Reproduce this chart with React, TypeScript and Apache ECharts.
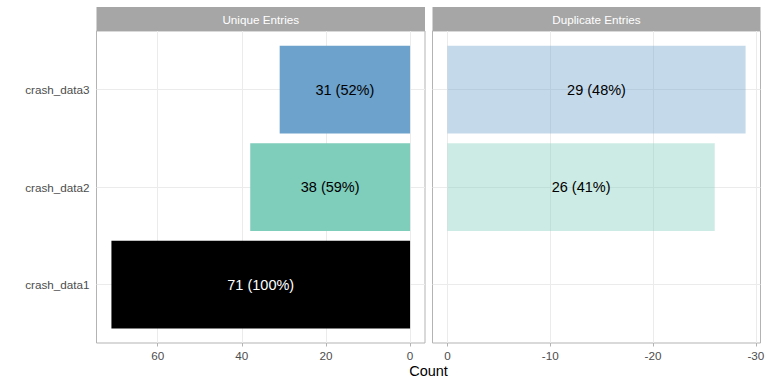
import React, { useEffect, useRef } from "react";
import * as echarts from "echarts";

// ---- data ----
const categories = ["crash_data1", "crash_data2", "crash_data3"];
const uniqueCounts = [71, 38, 31];
const uniquePct = [100, 59, 52];
const duplicateCounts = [0, 26, 29];
const duplicatePct = [0, 41, 48];
const uniqueTicks = [0, 20, 40, 60];
const duplicateTicks = [-30, -20, -10, 0];
const panelTitles = ["Unique Entries", "Duplicate Entries"];
const categoryColors = ["#000000", "#7fcdbb", "#6ca2cc"];
const labelColors = ["#ffffff", "#000000", "#000000"];
const xTitle = "Count";

// ---- layout / style ----
const FONT = "Liberation Sans, Arial, Helvetica, sans-serif";
const PANEL_TOP = 31;
const PANEL_BOTTOM = 343;
const STRIP_TOP = 7;
const PANELS = [
  { left: 96.5, right: 425 },
  { left: 432.5, right: 760.5 },
];
const BORDER = "#b3b3b3";
const GRIDLINE = "#ebebeb";
const AXIS_TEXT = "#4d4d4d";
const STRIP_FILL = "#a6a6a6";
const DUP_ALPHA = 0.4;

function withAlpha(hex: string, a: number) {
  const n = parseInt(hex.slice(1), 16);
  return `rgba(${(n >> 16) & 255},${(n >> 8) & 255},${n & 255},${a})`;
}

export default function App() {
  const ref = useRef<HTMLDivElement>(null);

  useEffect(() => {
    if (!ref.current) return;
    const chart = echarts.init(ref.current, undefined, { renderer: "svg" });

    const panelH = PANEL_BOTTOM - PANEL_TOP;
    const nCat = categories.length;
    const band = panelH / (nCat - 1 + 1.2);
    const barTop = PANEL_TOP + 0.1 * band;
    const barH = band * nCat;
    const hTop = PANEL_TOP + 0.6 * band;
    const hH = band * (nCat - 1);

    const uMax = Math.max(...uniqueCounts);
    const dMin = -Math.max(...duplicateCounts);
    const ranges = [
      { min: -0.05 * uMax, max: uMax * 1.05 },
      { min: dMin * 1.05, max: -0.05 * dMin },
    ];
    const tickSets = [uniqueTicks, duplicateTicks];

    const grids: any[] = [];
    const xAxes: any[] = [];
    const yAxes: any[] = [];
    const series: any[] = [];
    const graphics: any[] = [];

    PANELS.forEach((p, pi) => {
      const width = p.right - p.left;
      const r = ranges[pi];
      const toPx = (v: number) => p.right - ((v - r.min) / (r.max - r.min)) * width;
      const ticks = tickSets[pi];
      const tMin = Math.min(...ticks);
      const tMax = Math.max(...ticks);
      const tLeft = toPx(tMax);
      const tRight = toPx(tMin);
      const base = pi * 4;

      // frame grid
      grids.push({
        left: p.left, width, top: PANEL_TOP, height: panelH,
        show: true, borderColor: BORDER, borderWidth: 1, backgroundColor: "transparent",
        outerBoundsMode: "none",
      });
      xAxes.push({ gridIndex: base, type: "value", show: false, min: 0, max: 1 });
      yAxes.push({ gridIndex: base, type: "value", show: false, min: 0, max: 1 });

      // horizontal gridlines grid
      grids.push({ left: p.left, width, top: hTop, height: hH, outerBoundsMode: "none" });
      xAxes.push({ gridIndex: base + 1, type: "value", show: false, min: 0, max: 1 });
      yAxes.push({
        gridIndex: base + 1, type: "value", min: 1, max: nCat, interval: 1,
        axisLine: { show: false }, axisTick: { show: false }, axisLabel: { show: false },
        splitLine: { show: true, lineStyle: { color: GRIDLINE, width: 1 } },
      });

      // tick grid
      grids.push({ left: tLeft, width: tRight - tLeft, top: PANEL_TOP, height: panelH, outerBoundsMode: "none" });
      xAxes.push({
        gridIndex: base + 2, type: "value", min: tMin, max: tMax,
        interval: Math.abs(ticks[1] - ticks[0]), inverse: true, position: "bottom",
        axisLine: { show: false },
        axisTick: { show: true, length: 3.5, lineStyle: { color: BORDER, width: 1 } },
        axisLabel: { color: AXIS_TEXT, fontSize: 11.7, fontFamily: FONT, margin: 6 },
        splitLine: { show: true, lineStyle: { color: GRIDLINE, width: 1 } },
      });
      yAxes.push({ gridIndex: base + 2, type: "value", show: false, min: 0, max: 1 });

      // bar grid
      grids.push({ left: p.left, width, top: barTop, height: barH, outerBoundsMode: "none" });
      xAxes.push({
        gridIndex: base + 3, type: "value", show: false, min: r.min, max: r.max, inverse: true,
      });
      yAxes.push({
        gridIndex: base + 3, type: "category", data: categories,
        axisLine: { show: false },
        axisTick: { show: pi === 0, alignWithLabel: true, length: 3.5, lineStyle: { color: BORDER, width: 1 } },
        axisLabel: { show: pi === 0, color: AXIS_TEXT, fontSize: 11.7, fontFamily: FONT, margin: 7 },
        splitLine: { show: false },
      });

      const counts = pi === 0 ? uniqueCounts : duplicateCounts;
      const pcts = pi === 0 ? uniquePct : duplicatePct;
      series.push({
        type: "bar",
        xAxisIndex: base + 3,
        yAxisIndex: base + 3,
        barWidth: "90%",
        z: 3,
        data: counts.map((c, i) => ({
          value: c === 0 ? null : pi === 0 ? c : -c,
          itemStyle: {
            color: pi === 0 ? categoryColors[i] : withAlpha(categoryColors[i], DUP_ALPHA),
          },
          label: {
            show: c !== 0,
            position: "inside",
            formatter: `${c} (${pcts[i]}%)`,
            color: pi === 0 ? labelColors[i] : "#000000",
            fontSize: 14.5,
            fontFamily: FONT,
          },
        })),
      });

      // strip
      graphics.push({
        type: "rect",
        shape: { x: p.left, y: STRIP_TOP, width, height: PANEL_TOP - STRIP_TOP },
        style: { fill: STRIP_FILL },
        z: 0,
      });
      graphics.push({
        type: "text",
        x: p.left + width / 2,
        y: (STRIP_TOP + PANEL_TOP) / 2,
        style: {
          text: panelTitles[pi], fill: "#ffffff", fontSize: 11.7, fontFamily: FONT,
          textAlign: "center", textVerticalAlign: "middle",
        },
        z: 1,
      });
    });

    graphics.push({
      type: "text",
      x: (PANELS[0].left + PANELS[1].right) / 2,
      y: 371,
      style: {
        text: xTitle, fill: "#000000", fontSize: 14.5, fontFamily: FONT,
        textAlign: "center", textVerticalAlign: "middle",
      },
    });

    chart.setOption({
      animation: false,
      backgroundColor: "#ffffff",
      textStyle: { fontFamily: FONT },
      grid: grids,
      xAxis: xAxes,
      yAxis: yAxes,
      series,
      graphic: graphics,
    });

    return () => chart.dispose();
  }, []);

  return (
    <div
      ref={ref}
      style={{ position: "fixed", left: 0, top: 0, width: 768, height: 384 }}
    />
  );
}
